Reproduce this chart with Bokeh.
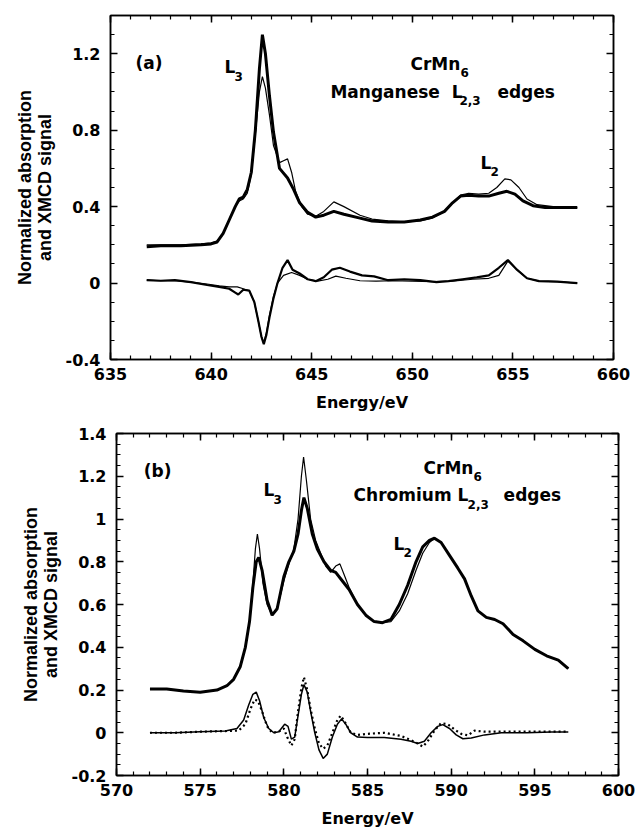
from bokeh.plotting import figure
from bokeh.layouts import column, row
from bokeh.models import (Range1d, LinearAxis, SingleIntervalTicker, Label,
                          CustomJSTickFormatter, Spacer)
from bokeh.embed import file_html
from bokeh.resources import INLINE

# ---------------- Panel (a): Manganese L2,3 edges ----------------
mn_abs_exp_e = [636.8, 637.5, 638.5, 639.5, 640.0, 640.3, 640.6, 640.9, 641.2, 641.4, 641.6, 641.8,
                642.0, 642.2, 642.4, 642.55, 642.7, 642.9, 643.1, 643.4, 643.8, 644.1, 644.4, 644.8,
                645.2, 645.6, 646.1, 646.6, 647.4, 648.0, 648.8, 649.6, 650.4, 651.0, 651.6, 652.0,
                652.4, 652.8, 653.3, 653.8, 654.3, 654.7, 655.1, 655.5, 656.0, 656.6, 657.3, 658.2]
mn_abs_exp_v = [0.19, 0.195, 0.195, 0.20, 0.205, 0.215, 0.26, 0.33, 0.40, 0.44, 0.45, 0.49,
                0.58, 0.80, 1.12, 1.30, 1.20, 0.98, 0.79, 0.60, 0.55, 0.49, 0.42, 0.37,
                0.345, 0.355, 0.375, 0.36, 0.34, 0.325, 0.32, 0.32, 0.33, 0.345, 0.375, 0.42,
                0.455, 0.46, 0.455, 0.455, 0.47, 0.48, 0.465, 0.43, 0.405, 0.395, 0.395, 0.395]

mn_abs_calc_e = [636.8, 637.5, 638.5, 639.5, 640.0, 640.3, 640.6, 640.9, 641.2, 641.4, 641.6, 641.8,
                 642.0, 642.2, 642.4, 642.55, 642.7, 642.9, 643.1, 643.4, 643.6, 643.8, 644.0, 644.2,
                 644.5, 644.8, 645.2, 645.6, 646.1, 646.6, 647.4, 648.0, 648.8, 649.6, 650.4, 651.0,
                 651.6, 652.0, 652.4, 652.8, 653.3, 653.8, 654.2, 654.6, 654.9, 655.3, 655.7, 656.2,
                 657.0, 658.2]
mn_abs_calc_v = [0.20, 0.20, 0.20, 0.205, 0.21, 0.22, 0.26, 0.33, 0.40, 0.43, 0.44, 0.47,
                 0.57, 0.78, 1.00, 1.08, 1.02, 0.88, 0.72, 0.63, 0.64, 0.65, 0.58, 0.48,
                 0.40, 0.36, 0.35, 0.375, 0.425, 0.40, 0.355, 0.335, 0.325, 0.32, 0.325, 0.34,
                 0.375, 0.42, 0.46, 0.47, 0.465, 0.47, 0.50, 0.545, 0.54, 0.50, 0.44, 0.41,
                 0.40, 0.395]

mn_xmcd_exp_e = [636.8, 637.5, 638.2, 639.0, 639.8, 640.4, 640.9, 641.2, 641.35, 641.6, 641.9, 642.15,
                 642.35, 642.5, 642.62, 642.75, 642.9, 643.1, 643.3, 643.55, 643.8, 644.05, 644.4, 644.8,
                 645.2, 645.6, 646.0, 646.4, 646.9, 647.5, 648.1, 648.8, 649.6, 650.4, 651.2, 651.8,
                 652.5, 653.2, 653.8, 654.3, 654.75, 655.2, 655.7, 656.3, 657.2, 658.2]
mn_xmcd_exp_v = [0.015, 0.012, 0.015, 0.005, -0.01, -0.02, -0.03, -0.05, -0.06, -0.035, -0.04, -0.10,
                 -0.20, -0.28, -0.32, -0.27, -0.18, -0.08, 0.00, 0.08, 0.12, 0.07, 0.05, 0.02,
                 0.01, 0.03, 0.07, 0.08, 0.06, 0.04, 0.035, 0.015, 0.02, 0.015, 0.005, 0.01,
                 0.02, 0.03, 0.04, 0.08, 0.12, 0.07, 0.025, 0.01, 0.008, 0.0]

mn_xmcd_calc_e = [636.8, 637.5, 638.2, 639.0, 639.8, 640.4, 640.9, 641.3, 641.6, 641.9, 642.15, 642.35,
                  642.5, 642.62, 642.75, 642.9, 643.1, 643.3, 643.6, 644.0, 644.4, 644.8, 645.3, 645.8,
                  646.2, 646.7, 647.4, 648.2, 649.0, 650.0, 651.0, 652.0, 653.0, 653.8, 654.3, 654.75,
                  655.2, 655.7, 656.3, 657.2, 658.2]
mn_xmcd_calc_v = [0.015, 0.012, 0.012, 0.005, -0.005, -0.015, -0.02, -0.02, -0.03, -0.04, -0.10, -0.20,
                  -0.28, -0.31, -0.26, -0.17, -0.07, 0.0, 0.04, 0.055, 0.04, 0.02, 0.01, 0.02,
                  0.036, 0.025, 0.012, 0.01, 0.012, 0.01, 0.008, 0.01, 0.02, 0.025, 0.04, 0.115,
                  0.07, 0.025, 0.01, 0.008, 0.0]

# ---------------- Panel (b): Chromium L2,3 edges ----------------
cr_abs_exp_e = [572.0, 573.0, 574.0, 575.0, 576.0, 576.6, 577.0, 577.4, 577.7, 577.95, 578.15, 578.35,
                578.5, 578.7, 579.0, 579.3, 579.6, 580.0, 580.3, 580.6, 580.85, 581.05, 581.2, 581.4,
                581.7, 582.0, 582.4, 582.8, 583.1, 583.5, 583.9, 584.4, 584.9, 585.4, 585.9, 586.4,
                586.9, 587.4, 587.9, 588.3, 588.7, 589.0, 589.4, 589.9, 590.4, 590.8, 591.2, 591.6,
                592.1, 592.6, 593.1, 593.7, 594.3, 595.0, 595.7, 596.4, 597.0]
cr_abs_exp_v = [0.205, 0.205, 0.195, 0.19, 0.20, 0.22, 0.25, 0.31, 0.40, 0.52, 0.68, 0.80,
                0.82, 0.76, 0.62, 0.55, 0.58, 0.73, 0.80, 0.85, 0.93, 1.04, 1.10, 1.05,
                0.93, 0.86, 0.80, 0.76, 0.75, 0.71, 0.67, 0.60, 0.55, 0.52, 0.515, 0.53,
                0.60, 0.69, 0.80, 0.87, 0.90, 0.91, 0.89, 0.83, 0.77, 0.72, 0.64, 0.57,
                0.54, 0.53, 0.51, 0.46, 0.43, 0.39, 0.36, 0.34, 0.30]

cr_abs_calc_e = [572.0, 573.0, 574.0, 575.0, 576.0, 576.6, 577.0, 577.4, 577.7, 577.95, 578.15, 578.3,
                 578.42, 578.55, 578.75, 579.0, 579.3, 579.6, 580.0, 580.3, 580.6, 580.85, 581.05, 581.18,
                 581.35, 581.6, 581.9, 582.2, 582.5, 582.8, 583.1, 583.35, 583.6, 583.9, 584.4, 584.9,
                 585.4, 585.9, 586.4, 586.9, 587.4, 587.9, 588.3, 588.7, 589.0, 589.4, 589.9, 590.4,
                 590.8, 591.2, 591.6, 592.1, 592.6, 593.1, 593.7, 594.3, 595.0, 595.7, 596.4, 597.0]
cr_abs_calc_v = [0.205, 0.205, 0.195, 0.19, 0.20, 0.22, 0.25, 0.31, 0.40, 0.52, 0.70, 0.86,
                 0.93, 0.86, 0.70, 0.60, 0.55, 0.58, 0.71, 0.79, 0.86, 1.00, 1.20, 1.29,
                 1.18, 1.00, 0.90, 0.84, 0.78, 0.75, 0.78, 0.79, 0.74, 0.68, 0.60, 0.55,
                 0.52, 0.515, 0.52, 0.57, 0.65, 0.76, 0.84, 0.89, 0.91, 0.89, 0.83, 0.77,
                 0.72, 0.64, 0.57, 0.54, 0.53, 0.51, 0.46, 0.43, 0.39, 0.36, 0.34, 0.30]

cr_xmcd_calc_e = [572.0, 573.5, 575.0, 576.5, 577.2, 577.6, 577.9, 578.15, 578.35, 578.55, 578.8, 579.1,
                  579.4, 579.7, 580.05, 580.25, 580.45, 580.65, 580.85, 581.05, 581.2, 581.4, 581.6, 581.85,
                  582.1, 582.35, 582.6, 582.9, 583.2, 583.45, 583.7, 584.0, 584.4, 585.0, 586.0, 587.0,
                  587.6, 588.0, 588.4, 588.8, 589.2, 589.5, 589.9, 590.3, 590.7, 591.2, 592.0, 593.0,
                  594.5, 596.0, 597.0]
cr_xmcd_calc_v = [0.0, 0.0, 0.005, 0.008, 0.02, 0.06, 0.13, 0.18, 0.19, 0.15, 0.07, 0.02,
                  0.0, 0.005, 0.04, 0.03, -0.03, -0.02, 0.08, 0.18, 0.225, 0.19, 0.10, 0.0,
                  -0.08, -0.12, -0.10, -0.02, 0.04, 0.065, 0.04, 0.0, -0.02, -0.022, -0.022, -0.03,
                  -0.04, -0.05, -0.04, 0.0, 0.03, 0.038, 0.02, -0.01, -0.028, -0.025, -0.01, 0.0,
                  0.0, 0.003, 0.003]

cr_xmcd_exp_e = [572.0, 573.5, 575.0, 576.5, 577.3, 577.7, 578.0, 578.25, 578.45, 578.7, 579.0, 579.3,
                 579.7, 580.0, 580.2, 580.45, 580.65, 580.85, 581.05, 581.2, 581.4, 581.6, 581.85, 582.1,
                 582.35, 582.6, 582.9, 583.2, 583.4, 583.65, 584.0, 584.4, 585.0, 586.0, 587.0, 587.6,
                 588.0, 588.3, 588.6, 589.0, 589.4, 589.8, 590.2, 590.6, 591.0, 591.4, 592.0, 593.0,
                 594.5, 596.0, 597.0]
cr_xmcd_exp_v = [0.0, 0.0, 0.005, 0.008, 0.01, 0.04, 0.11, 0.155, 0.15, 0.10, 0.03, 0.0,
                 0.005, 0.02, -0.02, -0.06, -0.03, 0.10, 0.21, 0.26, 0.20, 0.11, 0.02, -0.05,
                 -0.075, -0.06, 0.0, 0.06, 0.08, 0.05, 0.0, -0.01, -0.005, 0.0, -0.015, -0.035,
                 -0.05, -0.065, -0.04, 0.01, 0.045, 0.04, 0.015, -0.005, -0.012, 0.01, 0.005, 0.005,
                 0.005, 0.005, 0.005]

X_LABEL = "Energy/eV"
Y_LABEL = "Normalized absorption\nand XMCD signal"

FONT = "DejaVu Sans"
YFONT = "Liberation Sans"

fmt = CustomJSTickFormatter(code="return String(Number(tick.toFixed(2)));")


def make_fig(xr, yr, xint, yint, yminor, borders, width, height):
    p = figure(width=width, height=height, output_backend="svg", toolbar_location=None,
               x_range=Range1d(*xr), y_range=Range1d(*yr),
               x_axis_location=None, y_axis_location=None)
    p.min_border_left, p.min_border_right, p.min_border_top, p.min_border_bottom = borders
    p.grid.visible = False
    p.outline_line_color = "black"
    p.outline_line_width = 1.5
    p.background_fill_color = "white"
    p.border_fill_color = "white"
    for loc in ("below", "left", "above", "right"):
        if loc in ("below", "above"):
            tk = SingleIntervalTicker(interval=xint, num_minor_ticks=5)
        else:
            tk = SingleIntervalTicker(interval=yint, num_minor_ticks=yminor)
        ax = LinearAxis(ticker=tk, formatter=fmt)
        ax.axis_line_color = "black"
        ax.axis_line_width = 1.5
        ax.major_tick_in = 7
        ax.major_tick_out = 0
        ax.minor_tick_in = 4
        ax.minor_tick_out = 0
        ax.major_tick_line_width = 1.5
        ax.minor_tick_line_width = 1.2
        ax.major_label_text_font = FONT
        ax.major_label_text_font_style = "bold"
        ax.major_label_text_color = "black"
        ax.major_label_text_font_size = "16px"
        ax.axis_label_text_font = FONT
        ax.axis_label_text_font_style = "bold"
        ax.axis_label_text_font_size = "16px"
        ax.axis_label_text_color = "black"
        if loc == "below":
            ax.axis_label = X_LABEL
            ax.major_label_standoff = 8
            ax.axis_label_standoff = 10
        elif loc == "left":
            ax.axis_label = Y_LABEL
            ax.axis_label_text_font = YFONT
            ax.axis_label_text_font_size = "18px"
            ax.axis_label_text_line_height = 1.0
            ax.major_label_standoff = 10
            ax.axis_label_standoff = 8
        else:
            ax.major_label_text_font_size = "0px"
            ax.major_label_standoff = 0
            ax.major_label_text_alpha = 0
        p.add_layout(ax, loc)
    return p


def txt(p, x, y, text, size="17px", xo=0, yo=0):
    p.add_layout(Label(x=x, y=y, text=text, x_offset=xo, y_offset=yo, text_align="left",
                       text_baseline="alphabetic", text_font=FONT, text_font_style="bold",
                       text_font_size=size, text_color="black"))


SUB = "12px"
NB = "\u00a0"

# ---- panel (a)
pa = make_fig((635, 660), (-0.4, 1.4001), 5, 0.4, 4, (110, 24, 15, 56), 637, 415)
pa.line(mn_abs_calc_e, mn_abs_calc_v, line_color="black", line_width=1.2)
pa.line(mn_abs_exp_e, mn_abs_exp_v, line_color="black", line_width=3)
pa.line(mn_xmcd_calc_e, mn_xmcd_calc_v, line_color="black", line_width=1.2)
pa.line(mn_xmcd_exp_e, mn_xmcd_exp_v, line_color="black", line_width=2.2)

txt(pa, 636.24, 1.154, "(a)")
txt(pa, 640.67, 1.128, "L")
txt(pa, 640.67, 1.128, "3", size=SUB, xo=10, yo=-9)
txt(pa, 649.91, 1.144, "CrMn")
txt(pa, 649.91, 1.144, "6", size=SUB, xo=50, yo=-8)
txt(pa, 645.93, 1.0, "Manganese" + NB + NB + "L")
txt(pa, 645.93, 1.0, "2,3", size=SUB, xo=129, yo=-9)
txt(pa, 645.93, 1.0, "edges", xo=167)
txt(pa, 653.39, 0.63, "L")
txt(pa, 653.39, 0.63, "2", size=SUB, xo=10, yo=-9)

# ---- panel (b)
pb = make_fig((570, 600), (-0.2, 1.4001), 5, 0.2, 4, (110, 19, 18, 54), 631, 415)
pb.line(cr_abs_calc_e, cr_abs_calc_v, line_color="black", line_width=1.2)
pb.line(cr_abs_exp_e, cr_abs_exp_v, line_color="black", line_width=3)
pb.line(cr_xmcd_calc_e, cr_xmcd_calc_v, line_color="black", line_width=1.5)
pb.line(cr_xmcd_exp_e, cr_xmcd_exp_v, line_color="black", line_width=2.2, line_dash="2 3")

txt(pb, 571.63, 1.224, "(b)")
txt(pb, 578.79, 1.134, "L")
txt(pb, 578.79, 1.134, "3", size=SUB, xo=10, yo=-9)
txt(pb, 588.35, 1.238, "CrMn")
txt(pb, 588.35, 1.238, "6", size=SUB, xo=50, yo=-8)
txt(pb, 584.17, 1.111, "Chromium L")
txt(pb, 584.17, 1.111, "2,3", size=SUB, xo=114, yo=-9)
txt(pb, 584.17, 1.111, "edges", xo=150)
txt(pb, 586.55, 0.885, "L")
txt(pb, 586.55, 0.885, "2", size=SUB, xo=10, yo=-9)

layout = column(pa, row(Spacer(width=6, height=415), pb, spacing=0), spacing=0)
open("out.html", "w").write(file_html(layout, INLINE))
